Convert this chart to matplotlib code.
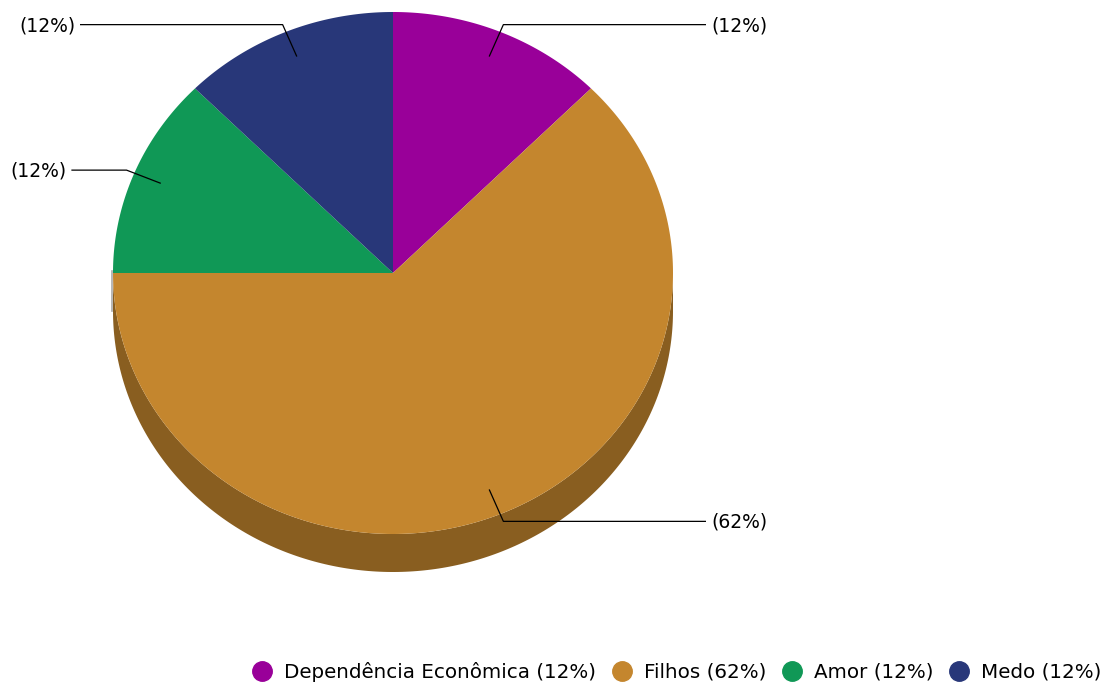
import matplotlib
matplotlib.use("Agg")
import matplotlib.pyplot as plt
from matplotlib.patches import Polygon
from matplotlib.lines import Line2D
import numpy as np

# data
categories = ["Dependência Econômica", "Filhos", "Amor", "Medo"]
values = [1, 5, 1, 1]
colors = ["#990099", "#C4862E", "#109856", "#283779"]

# geometry of the pseudo-3D pie (pixel space)
cx, cy = 393, 273
rx, ry = 280, 261
depth = 38


def pt(theta_deg, r=1.0):
    t = np.radians(theta_deg)
    return cx + r * rx * np.cos(t), cy - r * ry * np.sin(t)


def darker(c, f=0.7):
    rgb = np.array(matplotlib.colors.to_rgb(c))
    return tuple(rgb * f)


fig = plt.figure(figsize=(11.2, 6.83), dpi=100)
ax = fig.add_axes([0, 0, 1, 1])
ax.set_xlim(0, 1120)
ax.set_ylim(683, 0)
ax.axis("off")

total = float(sum(values))
pcts = [int(100 * v / total) for v in values]
starts = 90 - 360 * np.concatenate([[0], np.cumsum(values)[:-1]]) / total
ends = 90 - 360 * np.cumsum(values) / total

# side walls
for a0, a1, c in zip(starts, ends, colors):
    th = np.linspace(a1, a0, 300)
    vis = np.sin(np.radians(th)) <= 1e-9
    if not vis.any():
        continue
    th = th[vis]
    x, y = pt(th)
    xs = np.concatenate([x, x[::-1]])
    ys = np.concatenate([y, y[::-1] + depth])
    ax.add_patch(Polygon(np.column_stack([xs, ys]), closed=True,
                         facecolor=darker(c), edgecolor="none", zorder=1))

# small seam on the left edge
ax.plot([112, 112], [cy - 2, cy + depth], color="#aaaaaa", lw=1.2, zorder=0.5)

# top faces
for a0, a1, c in zip(starts, ends, colors):
    th = np.linspace(a0, a1, 300)
    x, y = pt(th)
    xs = np.concatenate([[cx], x])
    ys = np.concatenate([[cy], y])
    ax.add_patch(Polygon(np.column_stack([xs, ys]), closed=True,
                         facecolor=c, edgecolor="none", zorder=2))

# labels with leader lines
for a0, a1, p in zip(starts, ends, pcts):
    mid = (a0 + a1) / 2
    x0, y0 = pt(mid, 0.9)
    x1, y1 = pt(mid, 1.03)
    if np.cos(np.radians(mid)) >= 0:
        x2 = x1 + 202
        ax.plot([x0, x1, x2], [y0, y1, y1], color="black", lw=0.9, zorder=3)
        ax.text(x2 + 6, y1 + 1, "(%d%%)" % p, ha="left", va="center",
                fontsize=13.5, color="black")
    else:
        x2 = max(x1 - 202, 72)
        ax.plot([x0, x1, x2], [y0, y1, y1], color="black", lw=0.9, zorder=3)
        ax.text(x2 - 5, y1 + 1, "(%d%%)" % p, ha="right", va="center",
                fontsize=13.5, color="black")

# legend
handles = [Line2D([], [], marker="o", linestyle="none", markersize=14,
                  markerfacecolor=c, markeredgecolor=c) for c in colors]
labels = ["%s (%d%%)" % (n, p) for n, p in zip(categories, pcts)]
fig.legend(handles, labels, loc="lower right", bbox_to_anchor=(0.9995, -0.024),
           ncol=4, frameon=False, fontsize=14.3, handlelength=1.0,
           handletextpad=0.6, columnspacing=0.8)

fig.savefig("out.png", dpi=100)
